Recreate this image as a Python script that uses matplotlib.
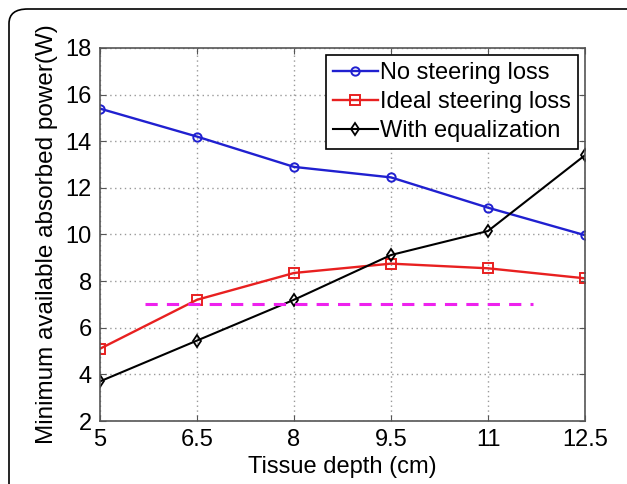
import matplotlib
matplotlib.use("Agg")
import matplotlib.pyplot as plt
from matplotlib.patches import FancyBboxPatch

# --- Data ---
depth = [5, 6.5, 8, 9.5, 11, 12.5]
no_steering = [15.4, 14.2, 12.9, 12.45, 11.15, 9.97]
ideal_steering = [5.1, 7.2, 8.35, 8.75, 8.55, 8.12]
with_equalization = [3.7, 5.45, 7.2, 9.12, 10.15, 13.4]
threshold_x = [5.7, 11.7]
threshold_y = [7.0, 7.0]

plt.rcParams["font.family"] = ["Liberation Sans", "DejaVu Sans"]

fig = plt.figure(figsize=(6.27, 4.84), dpi=100)

# rounded outer frame (cut off on the right and bottom)
frame = FancyBboxPatch((9 / 627, -0.1), 1.2, 1.1 - 9 / 484,
                       boxstyle="round,pad=0,rounding_size=0.03",
                       transform=fig.transFigure, fill=False,
                       edgecolor="black", linewidth=1.2)
fig.patches.append(frame)

ax = fig.add_axes([100 / 627, 63 / 484, 485 / 627, 373 / 484])

ax.plot(depth, no_steering, color="#2020d0", marker="o", markersize=6,
        markerfacecolor="none", markeredgewidth=1.4, linewidth=1.7,
        label="No steering loss")
ax.plot(depth, ideal_steering, color="#e82020", marker="s", markersize=7,
        markerfacecolor="none", markeredgewidth=1.4, linewidth=1.7,
        label="Ideal steering loss")
ax.plot(depth, with_equalization, color="black", marker="d", markersize=6,
        markerfacecolor="none", markeredgewidth=1.3, linewidth=1.5,
        label="With equalization")
ax.plot(threshold_x, threshold_y, color="#ee22ee", linestyle=(0, (4, 3)),
        linewidth=2.2)

ax.set_xlim(5, 12.5)
ax.set_ylim(2, 18)
ax.set_xticks(depth)
ax.set_xticklabels(["5", "6.5", "8", "9.5", "11", "12.5"])
ax.set_yticks(range(2, 19, 2))
ax.tick_params(direction="in", top=True, right=True, labelsize=17,
               length=4, color="#555555", pad=6)
ax.grid(True, linestyle=(0, (1, 2.5)), color="#999999", linewidth=1)
for sp in ax.spines.values():
    sp.set_color("#555555")
    sp.set_linewidth(1.2)

ax.set_xlabel("Tissue depth (cm)", fontsize=17, labelpad=3)
ax.set_ylabel("Minimum available absorbed power(W)", fontsize=17.5, labelpad=5)

leg = ax.legend(loc="upper right", fontsize=17, fancybox=False,
                framealpha=1, edgecolor="black", handlelength=1.9,
                handletextpad=0.1, borderpad=0.3, labelspacing=0.3,
                borderaxespad=0.3)
leg.get_frame().set_linewidth(1.2)

fig.savefig("out.png", dpi=100)
